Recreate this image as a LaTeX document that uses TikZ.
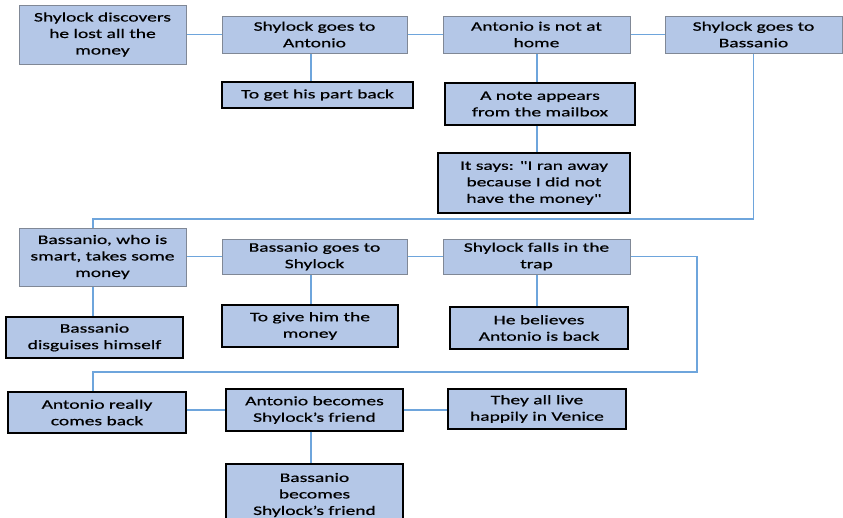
\documentclass[tikz,border=0pt]{standalone}
\usepackage{fontspec}
\setmainfont{Carlito}[Ligatures=TeXOff,FakeStretch=1.5,FakeBold=0.6]
\definecolor{boxfill}{RGB}{180,199,231}
\definecolor{graybord}{RGB}{128,136,150}
\definecolor{linkcol}{RGB}{110,165,220}
\begin{document}
\begin{tikzpicture}[x=1pt,y=-1pt,
  gbox/.style={draw=graybord, fill=boxfill, line width=1pt, inner sep=0pt, align=center, font=\fontsize{13}{16.5}\selectfont},
  kbox/.style={gbox, draw=black, line width=1.3pt},
  link/.style={draw=linkcol, line width=1.4pt}]
\useasboundingbox (0,0) rectangle (843,517);
% row 1
\node[gbox,minimum width=167pt,minimum height=59pt] (a1) at (102.5,34.5) {Shylock discovers\\he lost all the\\money};
\node[gbox,minimum width=185pt,minimum height=37pt] (a2) at (314.5,34.5) {Shylock goes to\\Antonio};
\node[gbox,minimum width=187pt,minimum height=37pt] (a3) at (536.5,34.5) {Antonio is not at\\home};
\node[gbox,minimum width=177pt,minimum height=37pt] (a4) at (753.5,34.5) {Shylock goes to\\Bassanio};
\node[kbox,minimum width=191pt,minimum height=26pt] (s1) at (317.5,95) {To get his part back};
\node[kbox,minimum width=190pt,minimum height=42pt] (s2) at (540,104) {A note appears\\from the mailbox};
\node[kbox,minimum width=192pt,minimum height=60pt] (s3) at (534,183) {It says: "I ran away\\because I did not\\have the money"};
% row 2
\node[gbox,minimum width=167pt,minimum height=58pt] (b1) at (102.5,257) {Bassanio, who is\\smart, takes some\\money};
\node[gbox,minimum width=185pt,minimum height=35pt] (b2) at (314.5,256.5) {Bassanio goes to\\Shylock};
\node[gbox,minimum width=187pt,minimum height=35pt] (b3) at (536.5,256.5) {Shylock falls in the\\trap};
\node[kbox,minimum width=177pt,minimum height=41pt] (t1) at (94.5,337.5) {Bassanio\\disguises himself};
\node[kbox,minimum width=176pt,minimum height=42pt] (t2) at (310,326) {To give him the\\money};
\node[kbox,minimum width=178pt,minimum height=42pt] (t3) at (539,328) {He believes\\Antonio is back};
% row 3
\node[kbox,minimum width=178pt,minimum height=41pt] (c1) at (97,412.5) {Antonio really\\comes back};
\node[kbox,minimum width=177pt,minimum height=42pt] (c2) at (314.5,410) {Antonio becomes\\Shylock’s friend};
\node[kbox,minimum width=178pt,minimum height=40pt] (c3) at (537,409) {They all live\\happily in Venice};
\node[kbox,minimum width=177pt,minimum height=62pt] (c4) at (314.5,495) {Bassanio\\becomes\\Shylock’s friend};
% guide coordinates
\coordinate (vx1) at (93,0);
\coordinate (vx2) at (311,0);
\coordinate (vx3) at (537,0);
\coordinate (xr) at (697,0);
\coordinate (h1) at (0,219);
\coordinate (h2) at (0,372);
% connectors
\draw[link] (a1.east |- a2) -- (a2.west);
\draw[link] (a2.east) -- (a3.west);
\draw[link] (a3.east) -- (a4.west);
\draw[link] (a2.south -| vx2) -- (s1.north -| vx2);
\draw[link] (a3.south -| vx3) -- (s2.north -| vx3);
\draw[link] (s2.south -| vx3) -- (s3.north -| vx3);
\draw[link] (a4.south) -- (a4.south |- h1) -- (vx1 |- h1) -- (b1.north -| vx1);
\draw[link] (b1.east |- b2) -- (b2.west);
\draw[link] (b2.east) -- (b3.west);
\draw[link] (b1.south -| vx1) -- (t1.north -| vx1);
\draw[link] (b2.south -| vx2) -- (t2.north -| vx2);
\draw[link] (b3.south -| vx3) -- (t3.north -| vx3);
\draw[link] (b3.east) -- (b3.east -| xr) -- (xr |- h2) -- (vx1 |- h2) -- (c1.north -| vx1);
\draw[link] (c1.east |- c2) -- (c2.west);
\draw[link] (c2.east) -- (c3.west |- c2);
\draw[link] (c2.south -| vx2) -- (c4.north -| vx2);
\end{tikzpicture}
\end{document}
